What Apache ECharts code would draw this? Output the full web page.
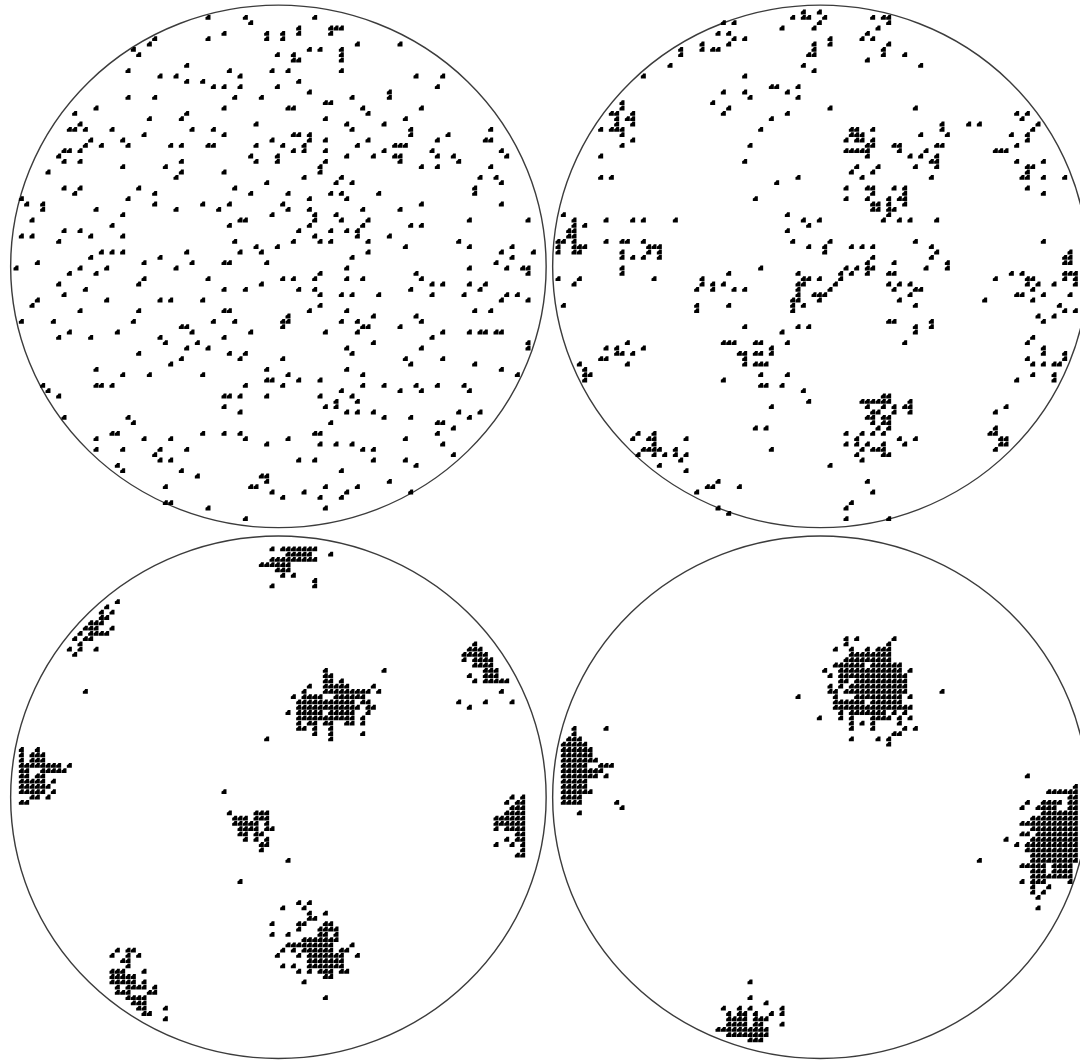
<!DOCTYPE html>
<html><head><meta charset="utf-8">
<style>html,body{margin:0;padding:0;background:#fff;overflow:hidden}#c{width:1080px;height:1061px}</style>
<script src="https://cdn.jsdelivr.net/npm/echarts@6/dist/echarts.min.js"></script>
</head><body><div id="c"></div>
<script>
// Each row: [rowIndex, column, column, ...] on a 100 x 100 lattice
const topLeftRows = [
[3,39,46,59],[4,47],[5,56,62,63,64],[6,42,50,53,56,62],[7,29,39,50,53],[8,28,67,75],[9,25,58,60,64],[10,26,52,55,64],[11,55,56,64],[12,35],
[13,24,43,51,54,64],[14,30,33,45,78,83],[15,35,38,56],[16,40,42,45,52,82],[17,58,73],[18,24,29,44,49,66,73],[19,61,62],[20,18,42,54,55,68,79],[21,14,35,69],[22,28,34,61,76],
[23,15,48,65,72],[24,13,14,16,21,36,40,66,77,92],[25,27,42,55,56,58,77,84],[26,17,23,51,58,61,69,82,91,92],[27,19,24,32,34,39,40,48,16,53,57,67,74,75,76],[28,15,12,13,55,57,61,72,81,94],
[29,11,47,52,65,70,74,75,82,85,95],[30,12,15,34,48,52,61,75,86],[31,23,31,60,79,82,92],[32,9,34,42,60],[33,33,57,64,90,93],[34,50,63,66,94],[35,12,15,26,44,89],[36,14,29,47,54,62,64,71,89],
[37,4,24,58,65],[38,5,8,29,38,43,53,79,94],[39,8,18,33,41,54,58,68,75],[40,23,51,59,63],[41,6,45,46,59,64,69,88,99],[42,21,43,58,68,77,79],[43,12,15,56,62,65,67],[44,4,6,17,23,59,67,73],
[45,11,44,55,60,62,69,86],[46,48,52,76,88,96],[47,19,21,23,35,45,49,69,94,100],[48,17,30,66,96],[49,7,27,36,42,43,50,93],[50,3,15,20,33,65,88,95,98,99],
[51,13,18,60,78,99],[52,27,39,53,55,59,65,68,79],[53,11,26,49,81,83,88,91],[54,16,42,46,56,59,77,90],[55,12,60,64,66,71,81,87,95,97],[56,7,20,30,32,38,94,99],[57,6,60],[58,15,26,42,43,58,65,89,92],
[59,54,70,78],[60,4,10,44,25,40,64,67,53,54,79],[61,34,35,53,68,69,75],[62,13,22,36,47,61,67,83,88,90,91,93,94],[63,11,17,30,42,81],[64,31,37,70,99],[65,35,39,65,79,99],[66,26,43,46,66],
[67,34,45,53,76,83],[68,32,77,89],[69,18,50,65,94],[70,23,28,38,54,68,97],[71,50,51,56,60],[72,8,18,19,21,46,53,68,72,78,82,87],[73,9,64,75,79,88],[74,11,42,43,45,50,60,66],[75,63,67],
[76,42,61,63],[77,45,65,67,70,86,90],[78,12,24,72,77,88],[79,25,62,82,83],[80,85],[81,38,42,45,21,22,59,60,82],[82,18,27,32,46,54,76],[83,50,60,63,66,83],[84,18,23,30,35,68,70],[85,29,85],
[86,30,32,56,59,70,76],[87,22,78],[88,23,34,64],[89,37,49,50],[90,50,73],[91,31,47,48,61,67],[92,51,57,65,77],[93,53,60,64],[94,31,32],[95,39,61],[97,46]
];
const topRightRows = [
[2,52,49],[3,47,49,50,53,62,64,65],[4,36,52,65,34],[5,45,51,63],[6,33,35,61],[7,54,36,38,60,62],[8,35,51,65,54,30],[9,30,32,33,26,51,64],[10,26,50,51,64,68],[11,61],[12,24,49,71],[13,51],[14,19,38],
[16,43,44,48],[17,34,38,46],[18,39,48],[19,32,15],[20,15,35,54,70],[21,13,14,34,46,91,89,17],[22,14,17,16,43,90],[23,14,17,75,80,82,93],[24,11,13,14,15,41,58,59,62,75,92],[25,15,58,59,60,71,76,88,91],
[26,17,57,59,60,62,91],[27,15,39,61,62,66,67,74,75,89],[28,57,58,59,60,61,67,72,85,86,87],[29,11,61,71,69,74],[30,38,73,74,89,94],[31,59,63,70,74,91,92],[32,58,62,91],[33,11,13,48,60,73,90,91,94,98],
[34,44],[35,57,61,62,66,68,91],[36,62,68,94],[37,40,57,61,65,67,68],[38,62,63,65,68],[39,62,63,65,66],[40,4,46,65],[41,6,12,17,19,25,49,52,64,67,69,74],[42,6,8,50],[43,5,6,46],[44,5,6],
[45,3,4,6,12,15,16,19,47,54,70,94],[46,3,6,7,8,20,21,22,50,53,58,60,62,73],[47,3,6,7,15,20,22,53,74,99],[48,15,17,19,22,73,62,98,99],[49,99,61,66,76,98],[50,15,41,57,59,61,62,72,76],
[51,15,48,61,65,90,98,99,35,58,66,88,100,56],[52,3,7,21,30,49,50,52,56,85,91,92,98,100],[53,6,30,32,34,48,49,55,65,67,69,91,93,96,100],[54,29,32,36,38,48,54,66,70,71,92],[55,48,51,52,53,69,89,90,94,99],
[56,47,48,52,67,83,92],[57,4,29,35,47,49,70,97],[58,29,47,98,100],[59,93,96],[60,66,65,73,94],[61,38,48,50,70,73],[62,45,70],[63,92],[64,34,35,36,40,41,46,68,91,16],[65,12,14,19,43,94],
[66,14,15,17,37,38,40,41,43,94,98],[67,11,12,38,91,98],[68,7,16,38,40,41,42,92,94,96,97],[69,8],[70,8,9,41,46,92,96],[71,8,34,89,96],[72,41,42,45],[73,49],[74,64,65],[75,50,60,61,62,63,64,65,69],
[76,43,61,64,66,68,69,87],[77,62,63,66,69,85],[78,61,62,64,65],[79,62,64,65],[80,40,42,63,65,85],[81,18,21,57,60,62,64,84,85],[82,17,20,21,27,59,67,70,86,87],[83,57,59,61,64,21,68,86,87],
[84,19,20,21,22,25,43,60,62,63,64,85],[85,18,21,23,25,27,59,64,65],[86,26,60],[87,22,54],[88,27],[90,33,61],[91,31,32,37],[92,29,62],[94,58],[95,33,57],[96,35],[97,57,65]
];
const bottomLeftRows = [
[3,51,53,54,55,56,57,58,59],[4,54,55,56,57,58,62],[5,51,52,53,54,55,56,57,58,59],[6,49,50,51,52,53,54],[7,52,53,54],[8,53,55],[9,59],[10,51,59],
[13,22],[14,20],[15,21,19],[16,19,20],[17,17,18,19],[18,16,17,18,21],[19,15,17,18,19,20],[20,14,16,17],[21,15],[22,13,15,18],[23,14],
[26,72,61],[27,61,62],[28,61,62,64],[29,58,61,62,63,64,65,70],[30,57,61,62,63,64,65,66,67,68,69,71],[31,55,57,58,59,60,63,64,65,66,67,68],[32,56,57,58,59,60,61,62,63,64,65,66,68,69],
[33,56,57,58,59,60,61,62,63,64,65,66,67,69,70],[34,54,56,57,58,59,60,62,63,64,65,66,69],[35,56,57,58,59,60,61,62,63,64,65,66,68],[36,56,58,59,61,62,65,66,68],[37,56,57,59,62],[38,59,62,68],[39,62,50],
[21,89],[22,88,89,90],[23,87,88,89,90,91],[24,87,89,90,91,92],[25,89,90,91,92],[26,91,92,93],[27,88,91,92,93],[28,89,91,92,93,94,95],[30,94,16],[32,86,91,96],[33,88],
[41,4,7],[42,4,6,7,8],[43,4,6,7,8],[44,4,5,6,7,8,9,10,11,13],[45,4,5,8,9,10,11,12],[46,4,5,7,8],[47,4,5,6,7,8,10],[48,4,5,6,7,8,9],[49,4,5,6,7,8,10,42],[50,6,7,9],[51,4,5],
[50,96,98],[51,95,97,98],[52,96,97,98],[53,95,96,97,98],[54,93,94,95,96,97,98],[55,93,94,95,96,97,98],[56,93,95,96,97,98],[57,97,98],[58,95,97,98],[59,93,96,98],[60,98],[61,97,98],
[53,43,48,49,50],[54,44,45,46,48,49,50],[55,44,45,46,47,48,50],[56,45,46,47,48,50,51],[57,45,46,48,49],[58,46,48,50],[59,49,50],[60,49],[62,54],[66,45],
[70,56],[70,58],[71,53,57],[72,61,58],[73,58,59],[74,51,56,57,61,62],[75,56,60,61,62,63],[76,51,54,60,61,63],[77,57,58,59,60,61,62,63],[78,54,55,56,57,58,59,60,61,62,66],[79,53,55,57,58,59,60,61,62,64,65],
[80,52,56,58,59,60,61,62,63,64,67],[81,58,59,60,61,62,63,64],[82,53,55,58,59,60,61,62,63,64],[83,56,58,60,61,62,64,65],[84,61,62],[85,57],[88,61],
[79,22,24,25],[80,21,24,26],[81,23,24],[82,24],[83,21,22,23,27],[84,21,22,23,24,25],[85,21,22,23,24,25,27],[86,22,24,25,26,27,29],[87,22,23,24,28,29],[88,24,25,26,27],[89,25,26,27],[90,26,27,31],[91,27,28],[92,31]
];
const bottomRightRows = [
[20,57,59,66],[21,57,65],[22,55,58,61,63,64,65],[23,58,59,60,61,62,63,64,65],[24,57,58,59,60,61,62,63,64,65],[25,55,56,57,58,59,60,62,63,64,65,66,67],[26,53,56,57,58,59,60,61,62,63,64,65,66,67,69],
[27,54,56,57,58,59,60,61,62,63,64,65,66,67,68],[28,56,57,59,60,61,62,63,64,65,66,67,68],[29,54,56,58,59,60,61,62,63,64,65,66,67,68],[30,54,55,57,58,59,60,61,62,63,64,65,66,67,68,75],[31,55,59,60,61,62,63,64,65,66,67,69,48],
[32,55,56,57,58,59,60,62,63,64,65,66,67],[33,55,56,57,58,59,60,61,62,63,64,65,66,67,68,69],[34,56,58,59,60,61,62,63,64,66,68],[35,52,56,58,62,63,64,65,67,69],[36,58,60,62,67],[37,58,62,68,70],[38,66,67],[39,58,63,65],[40,65],
[46,91],[48,100],[49,95,96,97,98,99,100],[50,99,100],[51,91,94,95,96,97,99,100],[52,90,93,94,95,96,99,100],[53,94,95,96,97,98,99,100],[54,92,93,94,95,96,97,98,99,100],[55,90,91,92,93,94,95,96,97,98,99,100],
[56,92,93,94,95,96,97,98,99,100],[57,90,91,93,94,95,96,97,98,99,100],[58,87,92,93,94,95,96,97,98,99,100],[59,89,91,92,93,94,95,96,97,98,99,100],[60,91,92,93,94,95,96,97,98,99,100],[61,92,93,94,95,96,97,98,99,100],
[62,82,92,93,94,95,96,97,98,99,100],[63,90,91,92,93,94,96,97,98,99],[64,92,93,94,96,97,98,99],[65,92,93,94,95,96,97,98,99],[66,90,92,93,94,99],[67,92,95],[68,92,94],[69,93],[71,93],
[37,6,12],[38,6],[39,5,6,7],[40,4,5,6,7,8],[41,4,5,6,7,8,9],[42,4,5,6,7,8,9],[43,4,5,6,7,8,9,10],[44,4,5,6,7,8,11,12,13],[45,4,5,6,7,8,9,10,11],[46,4,5,6,7,8,9,10,12],[47,4,5,6,7,8],[48,4,5,6,7,8],
[49,4,5,6,7,8,9],[50,4,5,6,7],[51,4,5,6,7,14],[52,15],[53,7],
[85,39],[88,39],[89,42],[90,45,34,37,39],[91,45,35,37,38,40,43],[92,35,36,37,38,40,41,42],[93,45,35,36,37,38,40,41],[94,33,34,35,36,37,38,39,40,41,42],[95,35,36,37,38,39,40,41,42],[96,39,40,41]
];
const markerColor = '#000';
const frameColor = '#3c3c3c';
const cell = 16 / 3;
const panels = [
  {rows: topLeftRows,     left: 0,   top: 1.33,   centre: [52.2, 49.7]},
  {rows: topRightRows,    left: 542, top: 1.33,   centre: [52.2, 49.7]},
  {rows: bottomLeftRows,  left: 0,   top: 533,    centre: [52.2, 50.05]},
  {rows: bottomRightRows, left: 542, top: 533,    centre: [52.2, 50.05]}
];
const toPoints = rows => rows.flatMap(r => r.slice(1).map(n => [n, r[0]]));
const marker = 'path://M0 5.4L0 2.4L1 2L2 1L2.4 0L5.4 0L5.4 5.4Z';
const chart = echarts.init(document.getElementById('c'), null, {renderer: 'canvas'});
chart.setOption({
  animation: false,
  backgroundColor: '#fff',
  grid: panels.map(p => ({left: p.left, top: p.top, width: cell * 100, height: cell * 100, containLabel: false})),
  xAxis: panels.map((p, i) => ({type: 'value', gridIndex: i, min: 0, max: 100, show: false})),
  yAxis: panels.map((p, i) => ({type: 'value', gridIndex: i, min: 0, max: 100, inverse: true, show: false})),
  series: panels.flatMap((p, i) => [
    {type: 'scatter', xAxisIndex: i, yAxisIndex: i, silent: true, data: [p.centre], symbol: 'circle', symbolSize: [535.5, 522.5],
     itemStyle: {color: 'rgba(0,0,0,0)', borderColor: frameColor, borderWidth: 1.4, opacity: 1}, z: 1},
    {type: 'scatter', xAxisIndex: i, yAxisIndex: i, silent: true, large: false, data: toPoints(p.rows), symbol: marker, symbolSize: [5, 4.8],
     itemStyle: {color: markerColor, opacity: 1}, z: 2}
  ])
});
</script></body></html>
